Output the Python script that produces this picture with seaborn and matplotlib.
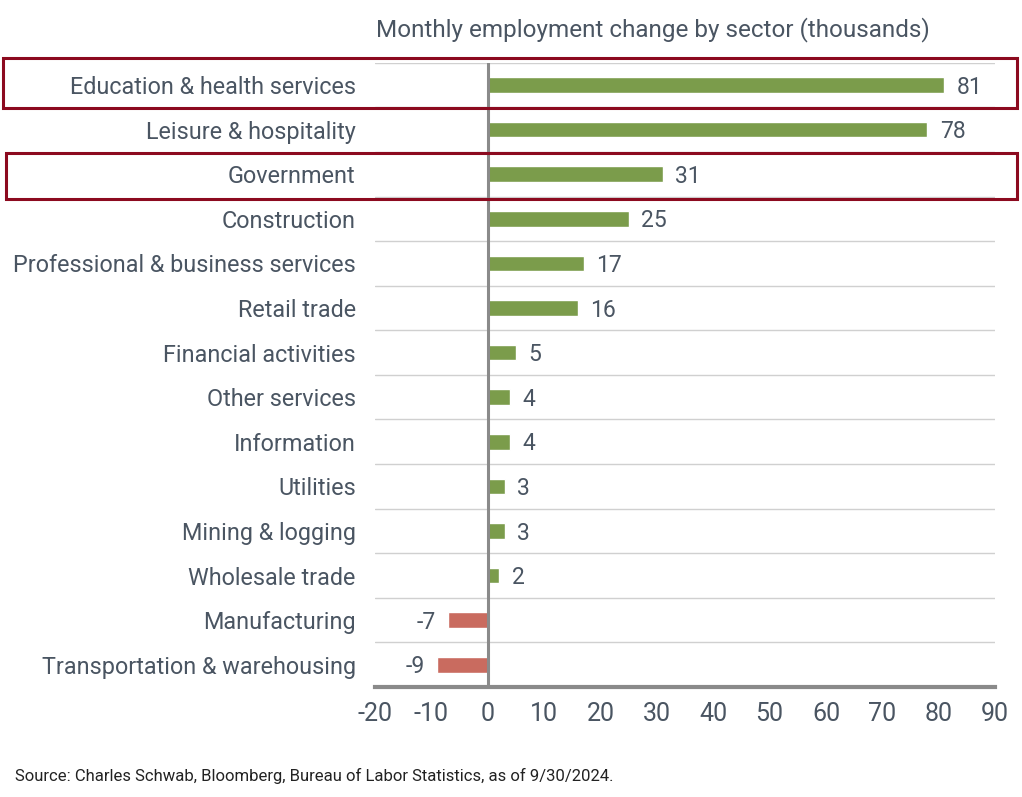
import pandas as pd
import matplotlib.pyplot as plt
import seaborn as sns
from matplotlib.patches import Rectangle

sectors = ['Education & health services', 'Leisure & hospitality', 'Government',
           'Construction', 'Professional & business services', 'Retail trade',
           'Financial activities', 'Other services', 'Information', 'Utilities',
           'Mining & logging', 'Wholesale trade', 'Manufacturing',
           'Transportation & warehousing']
changes = [81, 78, 31, 25, 17, 16, 5, 4, 4, 3, 3, 2, -7, -9]
x_ticks = [-20, -10, 0, 10, 20, 30, 40, 50, 60, 70, 80, 90]

GREEN = '#7b9c4b'
RED = '#c96b5f'
TEXT = '#4a5562'
BOX = '#8c0a1f'

sns.set_style('white')
plt.rcParams['font.family'] = ['Roboto', 'DejaVu Sans']

df = pd.DataFrame({'sector': sectors, 'change': changes})
df['sign'] = ['pos' if v >= 0 else 'neg' for v in df['change']]

fig = plt.figure(figsize=(10.22, 7.97), dpi=100)
ax = fig.add_axes([0.367, 0.138, 0.6066, 0.7833])

sns.barplot(data=df, x='change', y='sector', hue='sign', orient='h',
            palette={'pos': GREEN, 'neg': RED}, width=0.35, legend=False,
            saturation=1, ax=ax)

ax.set_xlim(-20, 90)
ax.set_ylim(len(sectors) - 0.5, -0.5)
ax.set_xticks(x_ticks)
ax.set_xticklabels([str(t) for t in x_ticks], fontsize=18, color=TEXT,
                   family=['Liberation Sans Narrow', 'Roboto', 'DejaVu Sans'])
ax.tick_params(axis='y', labelsize=16.8, colors=TEXT, length=0, pad=14)
ax.tick_params(axis='x', length=0, pad=11)
ax.set_xlabel('')
ax.set_ylabel('')

# row separators
for b in range(len(sectors)):
    ax.axhline(b - 0.5, color='#d0d0d0', lw=1, zorder=0)
ax.axvline(0, color='#8a8a8a', lw=2.2, zorder=3)

for s in ['top', 'right', 'left']:
    ax.spines[s].set_visible(False)
ax.spines['bottom'].set_color('#8a8a8a')
ax.spines['bottom'].set_linewidth(3)

# value labels
for i, v in enumerate(changes):
    if v >= 0:
        ax.annotate(str(v), (v, i), xytext=(9, -1.5), textcoords='offset points',
                    ha='left', va='center', fontsize=16.5, color=TEXT)
    else:
        ax.annotate(str(v), (v, i), xytext=(-9, -1.5), textcoords='offset points',
                    ha='right', va='center', fontsize=16.5, color=TEXT)

# highlight boxes
fig.patches.append(Rectangle((3 / 1022, 1 - 108 / 797), 1014 / 1022, 50 / 797,
                             transform=fig.transFigure, fill=False,
                             edgecolor=BOX, lw=2.2, zorder=5))
fig.patches.append(Rectangle((6 / 1022, 1 - 199 / 797), 1011 / 1022, 46 / 797,
                             transform=fig.transFigure, fill=False,
                             edgecolor=BOX, lw=2.2, zorder=5))

fig.text(376 / 1022, 1 - 30 / 797, 'Monthly employment change by sector (thousands)',
         fontsize=17.5, color=TEXT, ha='left', va='center')
fig.text(15 / 1022, 1 - 776 / 797,
         'Source: Charles Schwab, Bloomberg, Bureau of Labor Statistics, as of 9/30/2024.',
         fontsize=12, color='#222222', ha='left', va='center',
         family=['Liberation Sans Narrow', 'Roboto', 'DejaVu Sans'])

fig.savefig('out.png', dpi=100)
